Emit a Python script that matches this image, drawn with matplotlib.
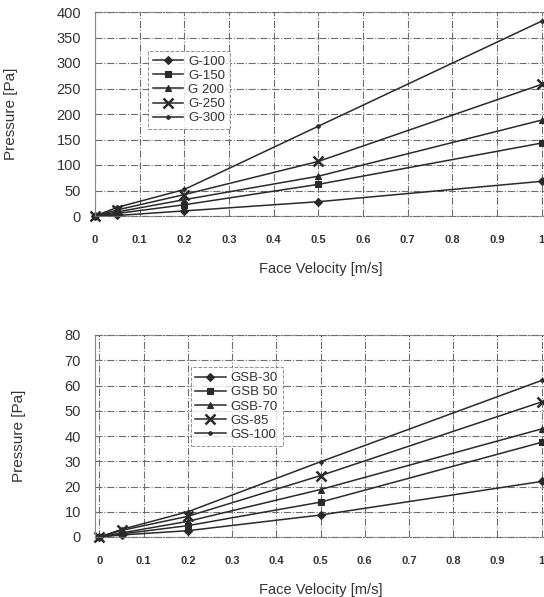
import matplotlib
matplotlib.use('Agg')
import matplotlib.pyplot as plt

plt.rcParams['font.family'] = ['Liberation Sans', 'DejaVu Sans']

velocity = [0, 0.05, 0.2, 0.5, 1.0]

# top chart: G series
g_labels = ['G-100', 'G-150', 'G 200', 'G-250', 'G-300']
g_100 = [0, 1, 10, 28, 68]
g_150 = [0, 5, 22, 62, 143]
g_200 = [0, 8, 32, 78, 188]
g_250 = [0, 12, 42, 107, 258]
g_300 = [0, 17, 52, 176, 382]

# bottom chart: GSB / GS series
gs_labels = ['GSB-30', 'GSB 50', 'GSB-70', 'GS-85', 'GS-100']
gsb_30 = [0, 0.8, 2.5, 8.7, 22]
gsb_50 = [0, 1.2, 4.5, 13.8, 37.5]
gsb_70 = [0, 1.6, 6.2, 18.8, 42.8]
gs_85 = [0, 2.6, 8.2, 24.3, 53.5]
gs_100 = [0, 3.0, 10.0, 29.8, 62]

y_ticks_top = [0, 50, 100, 150, 200, 250, 300, 350, 400]
y_ticks_bot = [0, 10, 20, 30, 40, 50, 60, 70, 80]
x_ticks = [0, 0.1, 0.2, 0.3, 0.4, 0.5, 0.6, 0.7, 0.8, 0.9, 1.0]
x_ticklabels = ['0', '0.1', '0.2', '0.3', '0.4', '0.5', '0.6', '0.7', '0.8', '0.9', '1']

markers = [('D', 4.5), ('s', 5), ('^', 4), ('x', 7), ('o', 2.5)]
line_col = '#2a2a2a'
grid_col = '#6e6e6e'

fig = plt.figure(figsize=(5.44, 5.97), dpi=100)
W, H = 544, 597


def make_axes(top_px, bot_px, x0):
    ax = fig.add_axes([95 / W, 1 - bot_px / H, 451 / W, (bot_px - top_px) / H])
    ax.set_xlim(x0, 1.01)
    return ax


def style(ax, yticks):
    ax.set_ylim(0, yticks[-1])
    ax.set_xticks(x_ticks)
    ax.set_xticklabels(x_ticklabels, fontsize=8, fontweight='bold', color='#333333')
    ax.set_yticks(yticks)
    ax.set_yticklabels([str(t) for t in yticks], fontsize=10.5, color='#333333')
    ax.tick_params(axis='both', length=0)
    ax.tick_params(axis='y', pad=10)
    ax.tick_params(axis='x', pad=14)
    ax.grid(True, color=grid_col, linestyle='-.', linewidth=0.8)
    ax.set_axisbelow(True)
    for side in ['top', 'bottom']:
        ax.spines[side].set_linestyle('-.')
        ax.spines[side].set_color(grid_col)
        ax.spines[side].set_linewidth(0.8)
    ax.spines['left'].set_color('#888888')
    ax.spines['left'].set_linewidth(0.8)
    ax.spines['right'].set_visible(False)
    ax.set_xlabel('Face Velocity [m/s]', fontsize=10.5, color='#333333', labelpad=12)
    ax.set_ylabel('Pressure [Pa]', fontsize=11, color='#333333', labelpad=28)


def draw(ax, series, labels, bbox):
    for vals, lab, (m, ms) in zip(series, labels, markers):
        mew = 1.8 if m == 'x' else 0.8
        ax.plot(velocity, vals, color=line_col, linewidth=1.1, marker=m,
                markersize=ms, markeredgewidth=mew, markerfacecolor=line_col,
                markeredgecolor=line_col, label=lab, clip_on=False)
    leg = ax.legend(loc='upper left', bbox_to_anchor=bbox, fontsize=9.5,
                    frameon=True, fancybox=False, handlelength=2.3,
                    handletextpad=0.4, labelspacing=0.15, borderpad=0.35,
                    borderaxespad=0)
    fr = leg.get_frame()
    fr.set_edgecolor('#777777')
    fr.set_linestyle('--')
    fr.set_linewidth(0.7)
    for t in leg.get_texts():
        t.set_color('#333333')


ax1 = make_axes(12, 216, 0)
draw(ax1, [g_100, g_150, g_200, g_250, g_300], g_labels, (0.118, 0.81))
style(ax1, y_ticks_top)

ax2 = make_axes(335, 537, -0.01)
draw(ax2, [gsb_30, gsb_50, gsb_70, gs_85, gs_100], gs_labels, (0.212, 0.84))
style(ax2, y_ticks_bot)

fig.savefig('out.png', dpi=100)
